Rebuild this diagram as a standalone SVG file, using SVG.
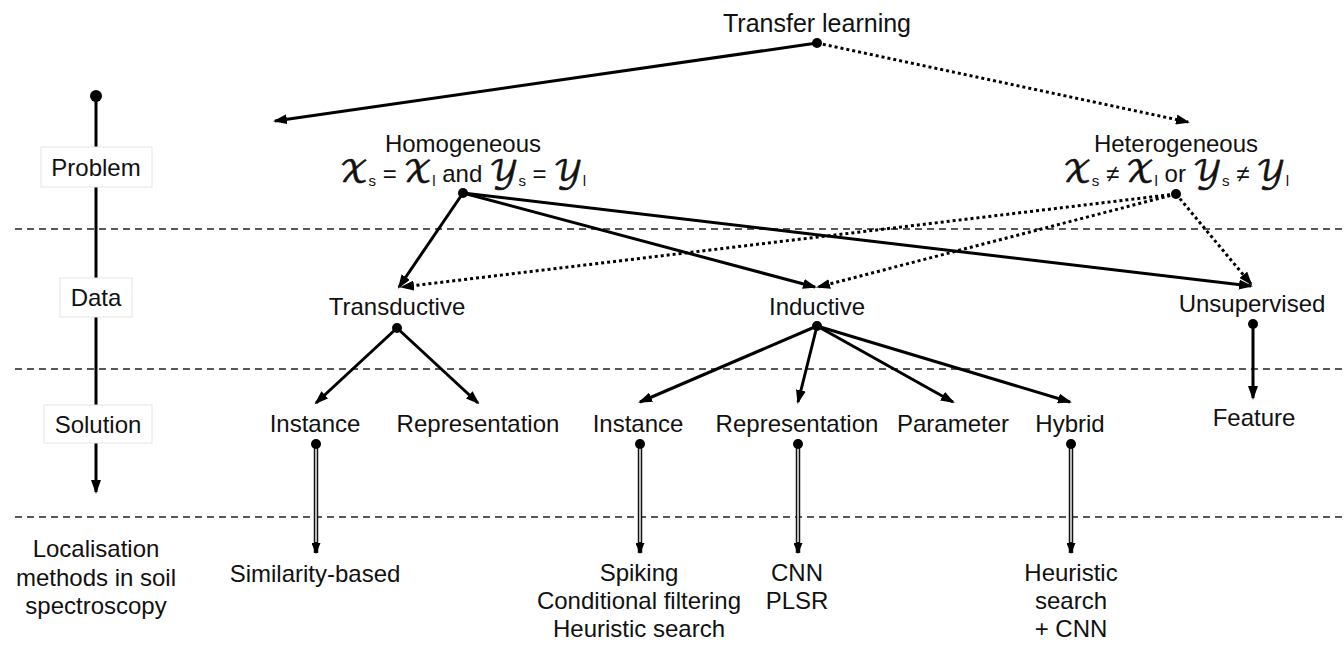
<svg xmlns="http://www.w3.org/2000/svg" width="1344" height="648" viewBox="0 0 1344 648">
<style>
text{font-family:"Helvetica Neue","Liberation Sans",Arial,sans-serif;font-size:24px;fill:#111;text-anchor:middle}
.sc{font-family:"DejaVu Math TeX Gyre","Noto Sans Math","STIX Two Math","DejaVu Serif",serif;font-style:normal;font-size:30px;stroke:#111;stroke-width:0.7}
.sub{font-size:15px;fill:#111}
.s{stroke:#000;stroke-width:3;fill:none;marker-end:url(#ah)}
.d{stroke:#000;stroke-width:3;fill:none;stroke-dasharray:3 3;marker-end:url(#ah)}
.dbo{stroke:#111;stroke-width:4.5;fill:none;marker-end:url(#ah2)}
.dbi{stroke:#fff;stroke-width:1.4;fill:none}
.dash{stroke:#222;stroke-width:1.3;stroke-dasharray:7 5;fill:none}
.dot{fill:#000}
.box{fill:#fff;stroke:#e6e6e6;stroke-width:1}
</style>
<defs>
<marker id="ah" markerUnits="userSpaceOnUse" viewBox="0 0 14 10" refX="12" refY="5" markerWidth="14" markerHeight="10" orient="auto">
<path d="M0,0 L14,5 L0,10 z" fill="#000"/>
</marker>
<marker id="ah2" markerUnits="userSpaceOnUse" viewBox="0 0 11 9" refX="10" refY="4.5" markerWidth="11" markerHeight="9" orient="auto">
<path d="M0,0 L11,4.5 L0,9 z" fill="#000"/>
</marker>
</defs>

<g id="layers">
<line class="dash" x1="15" y1="229" x2="1344" y2="229"/>
<line class="dash" x1="15" y1="369" x2="1344" y2="369"/>
<line class="dash" x1="15" y1="517" x2="1344" y2="517"/>
</g>

<g id="axis">
<line x1="96" y1="96" x2="96" y2="492" stroke="#000" stroke-width="3" marker-end="url(#ah)"/>
<circle class="dot" cx="96" cy="96" r="6"/>
<rect class="box" x="41" y="147" width="111" height="40"/>
<text x="96" y="176">Problem</text>
<rect class="box" x="60" y="278" width="72" height="39"/>
<text x="96" y="306">Data</text>
<rect class="box" x="44" y="405" width="108" height="38"/>
<text x="98" y="433">Solution</text>
<text x="96" y="557">Localisation</text>
<text x="96" y="586">methods in soil</text>
<text x="96" y="614">spectroscopy</text>
</g>

<g id="connectors">
<line class="s" x1="817" y1="43" x2="275" y2="121"/>
<line class="d" x1="817" y1="43" x2="1188" y2="122"/>
<line class="s" x1="463" y1="193" x2="399" y2="287"/>
<line class="s" x1="463" y1="193" x2="815" y2="287"/>
<line class="s" x1="463" y1="193" x2="1251" y2="286"/>
<line class="d" x1="1176" y1="194" x2="402" y2="287"/>
<line class="d" x1="1176" y1="194" x2="818" y2="287"/>
<line class="d" x1="1176" y1="194" x2="1251" y2="284"/>
<line class="s" x1="397" y1="328" x2="316" y2="403"/>
<line class="s" x1="397" y1="328" x2="478" y2="403"/>
<line class="s" x1="817" y1="326" x2="640" y2="402"/>
<line class="s" x1="817" y1="326" x2="798" y2="402"/>
<line class="s" x1="817" y1="326" x2="953" y2="402"/>
<line class="s" x1="817" y1="326" x2="1070" y2="402"/>
<line class="s" x1="1253" y1="324" x2="1253" y2="398"/>
<line class="dbo" x1="316" y1="444" x2="316" y2="553"/>
<line class="dbi" x1="316" y1="448" x2="316" y2="542"/>
<line class="dbo" x1="640" y1="444" x2="640" y2="553"/>
<line class="dbi" x1="640" y1="448" x2="640" y2="542"/>
<line class="dbo" x1="798" y1="444" x2="798" y2="553"/>
<line class="dbi" x1="798" y1="448" x2="798" y2="542"/>
<line class="dbo" x1="1071" y1="444" x2="1071" y2="553"/>
<line class="dbi" x1="1071" y1="448" x2="1071" y2="542"/>
</g>

<g id="node-transfer">
<text x="817" y="32" style="font-size:25px">Transfer learning</text>
<circle class="dot" cx="817" cy="43" r="5"/>
</g>
<g id="node-homogeneous">
<text x="463" y="152">Homogeneous</text>
<text x="463" y="182"><tspan class="sc">𝒳</tspan><tspan class="sub" dy="4">s</tspan><tspan dy="-4"> = </tspan><tspan class="sc">𝒳</tspan><tspan class="sub" dy="4">l</tspan><tspan dy="-4"> and </tspan><tspan class="sc">𝒴</tspan><tspan class="sub" dy="4">s</tspan><tspan dy="-4"> = </tspan><tspan class="sc">𝒴</tspan><tspan class="sub" dy="4">l</tspan></text>
<circle class="dot" cx="463" cy="193" r="5"/>
</g>
<g id="node-heterogeneous">
<text x="1176" y="152">Heterogeneous</text>
<text x="1176" y="182"><tspan class="sc">𝒳</tspan><tspan class="sub" dy="4">s</tspan><tspan dy="-4"> ≠ </tspan><tspan class="sc">𝒳</tspan><tspan class="sub" dy="4">l</tspan><tspan dy="-4"> or  </tspan><tspan class="sc">𝒴</tspan><tspan class="sub" dy="4">s</tspan><tspan dy="-4"> ≠ </tspan><tspan class="sc">𝒴</tspan><tspan class="sub" dy="4">l</tspan></text>
<circle class="dot" cx="1176" cy="194" r="5"/>
</g>
<g id="node-transductive">
<text x="397" y="315">Transductive</text>
<circle class="dot" cx="397" cy="328" r="5"/>
</g>
<g id="node-inductive">
<text x="817" y="315">Inductive</text>
<circle class="dot" cx="817" cy="326" r="5"/>
</g>
<g id="node-unsupervised">
<text x="1252" y="312">Unsupervised</text>
<circle class="dot" cx="1253" cy="324" r="5"/>
</g>
<g id="node-t-instance">
<text x="315" y="432">Instance</text>
<circle class="dot" cx="316" cy="444" r="5"/>
</g>
<g id="node-t-representation">
<text x="478" y="432">Representation</text>
</g>
<g id="node-i-instance">
<text x="638" y="432">Instance</text>
<circle class="dot" cx="640" cy="444" r="5"/>
</g>
<g id="node-i-representation">
<text x="797" y="432">Representation</text>
<circle class="dot" cx="798" cy="444" r="5"/>
</g>
<g id="node-parameter">
<text x="953" y="432">Parameter</text>
</g>
<g id="node-hybrid">
<text x="1070" y="432">Hybrid</text>
<circle class="dot" cx="1071" cy="444" r="5"/>
</g>
<g id="node-feature">
<text x="1254" y="426">Feature</text>
</g>
<g id="node-similarity">
<text x="315" y="582">Similarity-based</text>
</g>
<g id="node-i-instance-methods">
<text x="639" y="581">Spiking</text>
<text x="639" y="609">Conditional filtering</text>
<text x="639" y="637">Heuristic search</text>
</g>
<g id="node-i-representation-methods">
<text x="797" y="581">CNN</text>
<text x="797" y="609">PLSR</text>
</g>
<g id="node-hybrid-methods">
<text x="1071" y="581">Heuristic</text>
<text x="1071" y="609">search</text>
<text x="1071" y="637">+ CNN</text>
</g>
</svg>
